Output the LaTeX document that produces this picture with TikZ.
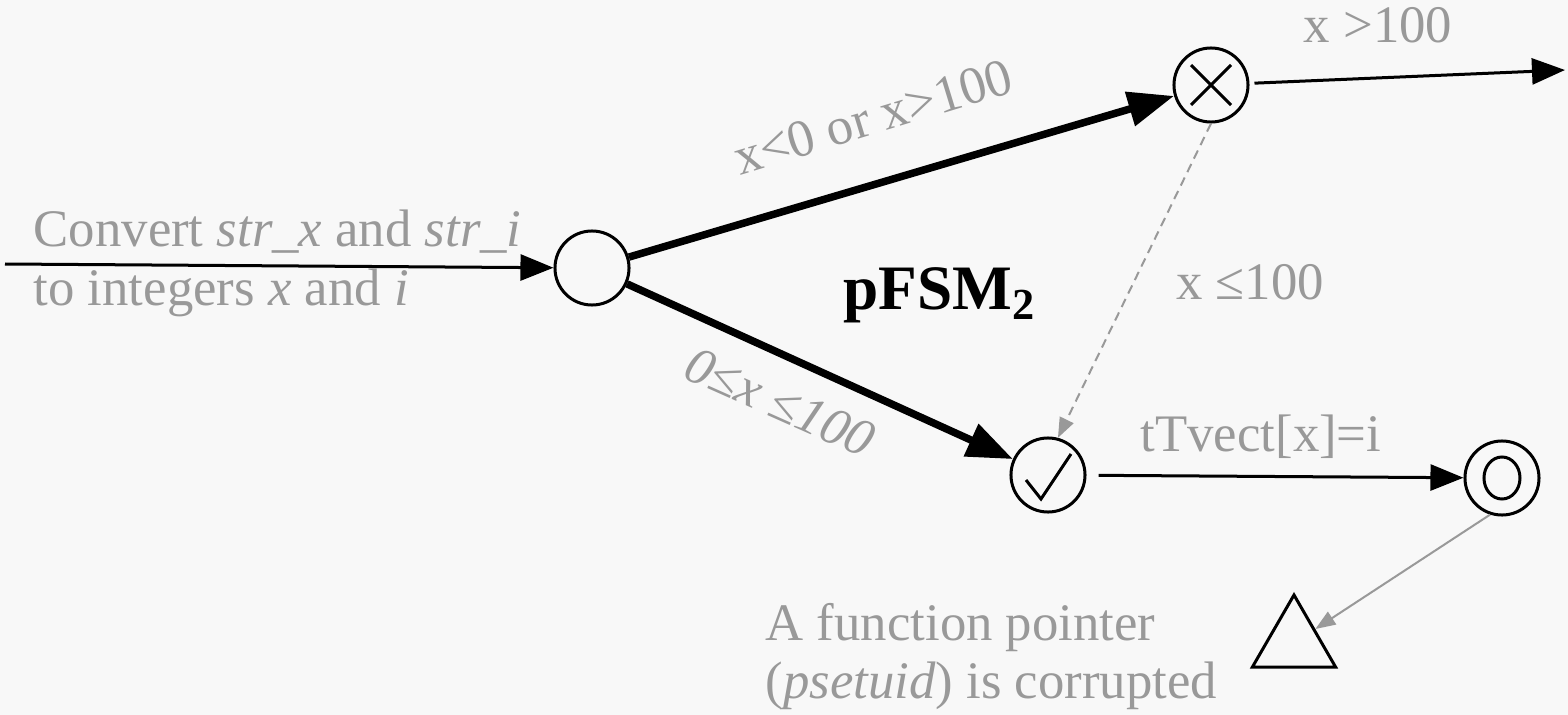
\documentclass[tikz,border=0pt]{standalone}
\usepackage{fontspec}
\setmainfont{Liberation Serif}
\usetikzlibrary{arrows.meta,shapes.geometric}
\definecolor{lblgray}{RGB}{153,153,153}
\definecolor{bggray}{RGB}{248,248,248}
\tikzset{
    state/.style={circle,draw,line width=0.03cm,minimum size=0.74cm,inner sep=0pt},
    thickedge/.style={line width=0.075cm,-{Triangle[length=0.46cm,width=0.34cm]}},
    thinedge/.style={line width=0.03cm,-{Triangle[length=0.33cm,width=0.26cm]}},
    grayedge/.style={line width=0.02cm,draw=lblgray,-{Triangle[length=0.2cm,width=0.15cm]}},
    lbl/.style={text=lblgray,font=\fontsize{15}{18}\selectfont,inner sep=0pt}
}
\begin{document}
\begin{tikzpicture}[x=0.01cm,y=-0.01cm]
    \useasboundingbox (0,0) rectangle (1568,715);
    \fill[bggray] (0,0) rectangle (1568,715);

    % states
    \node[state] (start) at (592,268) {};
    \node[state] (cross) at (1211,85) {};
    \node[state] (chk) at (1048,475) {};
    \node[state] (acc) at (1502,478) {};
    \node[regular polygon,regular polygon sides=3,draw,line width=0.03cm,minimum size=0.96cm,inner sep=0pt] (tri) at (1294,643) {};
    \draw[line width=0.03cm] ([shift={(-20,-20)}]cross.center) -- ([shift={(20,20)}]cross.center)
        ([shift={(-20,20)}]cross.center) -- ([shift={(20,-20)}]cross.center);
    \draw[line width=0.03cm] ([shift={(-22,5)}]chk.center) -- ([shift={(-7,24)}]chk.center) -- ([shift={(23,-21)}]chk.center);
    \draw[line width=0.03cm] (acc.center) ellipse [x radius=0.18cm,y radius=0.21cm];

    \coordinate (in) at (5,264);
    \coordinate (out) at (1565,70);

    % transitions
    \draw[thinedge] (in) -- (start);
    \draw[thickedge] (start) -- (cross);
    \draw[thickedge] (start) -- (chk);
    \draw[thinedge,shorten <=0.05cm] (cross) -- (out);
    \draw[grayedge,dash pattern=on 0.09cm off 0.06cm] (cross.south) -- (chk.75);
    \draw[thinedge,shorten <=0.12cm] (chk) -- (acc);
    \draw[grayedge] (acc.252) -- (tri);

    % labels
    \node[lbl,anchor=base west] (lblconv) at (33,246) {Convert \textit{str\_x} and \textit{str\_i}};
    \node[lbl,anchor=base west] (lblint) at (33,305) {to integers \textit{x} and \textit{i}};
    \node[lbl,rotate=17] (lblbad) at (873,117) {x<0 or x>100};
    \node[lbl,rotate=-24] (lblok) at (780,402) {\textit{0≤x ≤100}};
    \node[lbl,anchor=base] (lblbig) at (1378,43) {x >100};
    \node[lbl,anchor=base] (lblle) at (1250,300) {x ≤100};
    \node[lbl,anchor=base] (lblset) at (1261,452) {tTvect[x]=i};
    \node[anchor=base west,inner sep=0pt,font=\bfseries\fontsize{18}{20}\selectfont] (title) at (843,310) {pFSM\textsubscript{2}};
    \node[lbl,anchor=base west] (lblfunc) at (765,640) {A function pointer};
    \node[lbl,anchor=base west] (lblcorr) at (765,698) {(\textit{psetuid}) is corrupted};
\end{tikzpicture}
\end{document}
